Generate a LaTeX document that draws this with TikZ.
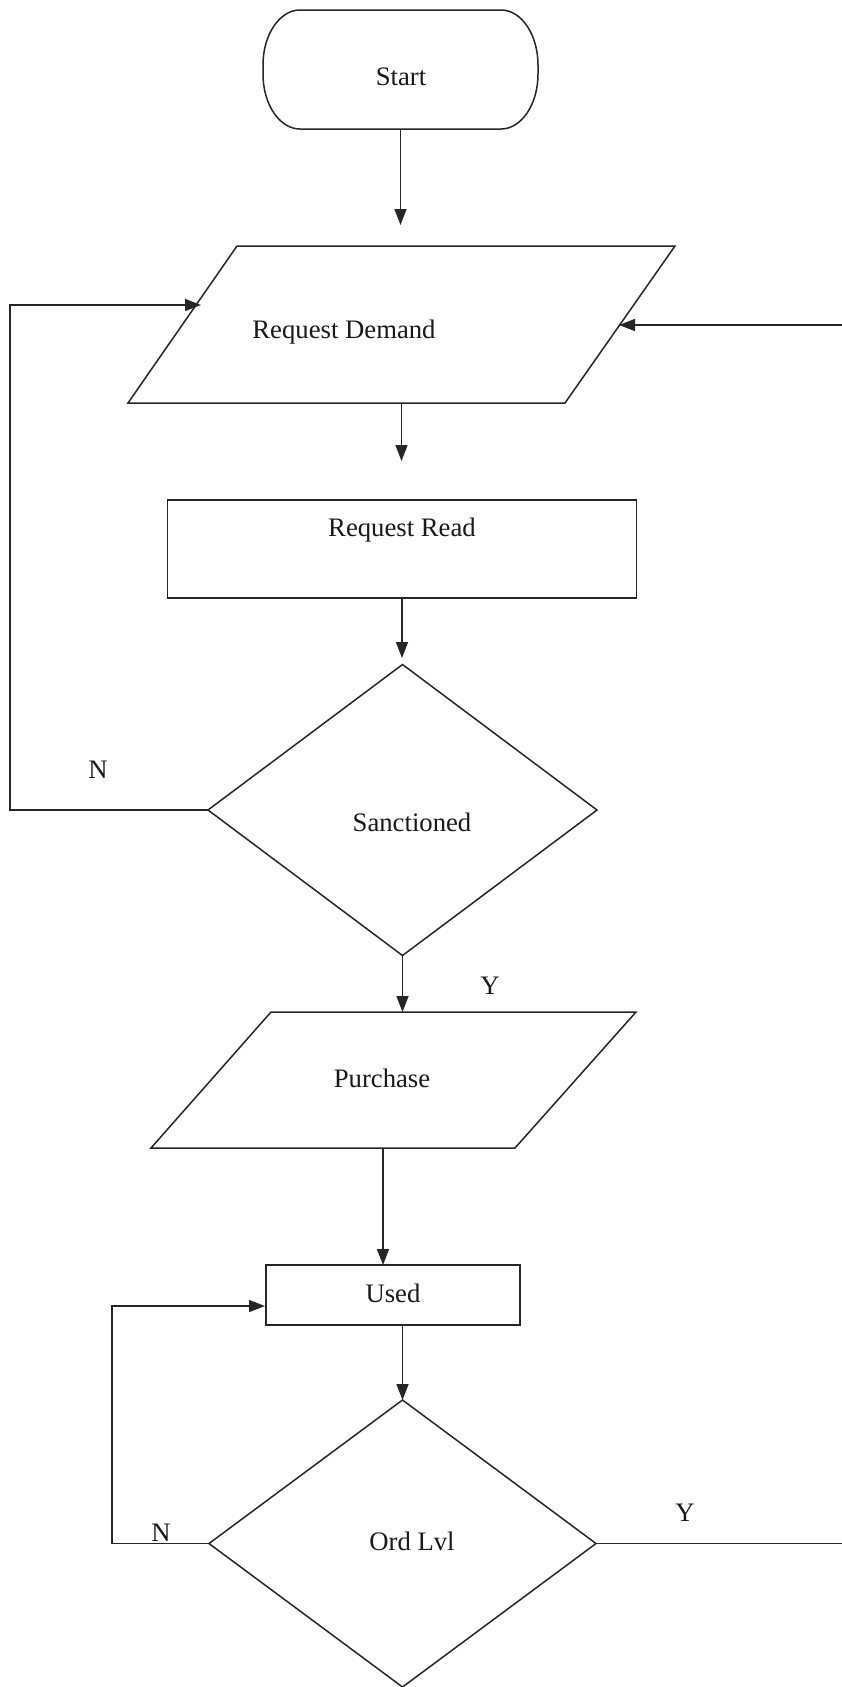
\documentclass[tikz,border=0pt]{standalone}
\usepackage{fontspec}
\setmainfont{Liberation Serif}
\usetikzlibrary{arrows.meta,shapes.geometric,calc}
\begin{document}
\begin{tikzpicture}[x=1pt,y=-1pt,
  line width=1.5pt, draw=black!85,
  box/.style={draw=none,inner sep=0pt,outer sep=0pt},
  procbox/.style={draw=black!85,inner sep=0pt,outer sep=0pt},
  decbox/.style={diamond,draw=black!85,inner sep=0pt,outer sep=0pt},
  txt/.style={inner sep=0pt,anchor=base,text=black!90,font=\fontsize{26.7}{32}\selectfont},
  arr/.style={draw=black!85,-{Triangle[length=16pt,width=12pt]}},
  ln/.style={draw=black!85},
]
\path[use as bounding box,fill=white] (0,0) rectangle (842,1687);

% ---- shapes ----
\node[box,minimum width=275pt,minimum height=119pt] (start) at (400.5,69.5) {};
\draw[ln] (300,10) -- (501,10)
  .. controls (521.4,10) and (538,34.6) .. (538,65) -- (538,74)
  .. controls (538,104.4) and (521.4,129) .. (501,129) -- (300,129)
  .. controls (279.6,129) and (263,104.4) .. (263,74) -- (263,65)
  .. controls (263,34.6) and (279.6,10) .. (300,10) -- cycle;
\node[txt] (startT) at (401,85) {Start};

\node[box,minimum width=547pt,minimum height=157pt] (rd) at (401.5,324.5) {};
\draw[ln] (237,246) -- (675,246) -- (565,403) -- (128,403) -- cycle;
\node[txt] (rdT) at (344,338) {Request Demand};

\node[procbox,minimum width=469pt,minimum height=98pt] (rr) at (402,549) {};
\node[txt] (rrT) at (402,536) {Request Read};

\node[decbox,minimum width=389pt,minimum height=291pt] (san) at (402.5,810) {};
\node[txt] (sanT) at (412,831) {Sanctioned};

\node[box,minimum width=485pt,minimum height=136pt] (pur) at (393.5,1080) {};
\draw[ln] (271,1012) -- (636,1012) -- (515,1148) -- (151,1148) -- cycle;
\node[txt] (purT) at (382,1087) {Purchase};

\node[procbox,minimum width=254pt,minimum height=60pt] (used) at (393,1295) {};
\node[txt] (usedT) at (393,1302) {Used};

\node[decbox,minimum width=387pt,minimum height=287pt] (ord) at (402.5,1543.5) {};
\node[txt] (ordT) at (412,1550) {Ord Lvl};

% ---- labels ----
\node[txt] (n1) at (98,778) {N};
\node[txt] (y1) at (490,994) {Y};
\node[txt] (n2) at (161,1541) {N};
\node[txt] (y2) at (685,1521) {Y};

% ---- helper coordinates ----
\coordinate (rdIn) at (401,225);
\coordinate (rrIn) at (401,461);
\coordinate (sanIn) at (402,658);
\coordinate (purOut) at (383,1148);
\coordinate (rdL) at (201,305);
\coordinate (rdR) at (619,325);
\coordinate (usedIn) at (265,1306);
\coordinate (loopL) at (10,0);
\coordinate (loopL2) at (112,0);
\coordinate (edgeR) at (842,0);

% ---- connectors ----
\draw[arr] (start.south) -- (start.south |- rdIn);
\draw[arr] (rd.south) -- (rd.south |- rrIn);
\draw[arr] (rr.south) -- (rr.south |- sanIn);
\draw[arr] (san.south) -- (san.south |- pur.north);
\draw[arr] (purOut) -- (purOut |- used.north);
\draw[arr] (used.south -| ord.north) -- (ord.north);
\draw[arr] (san.west) -- (san.west -| loopL) |- (rdL);
\draw[arr] (ord.west) -- (ord.west -| loopL2) |- (usedIn);
\draw[ln] (ord.east) -- (ord.east -| edgeR);
\draw[arr] (edgeR |- rdR) -- (rdR);
\end{tikzpicture}
\end{document}
